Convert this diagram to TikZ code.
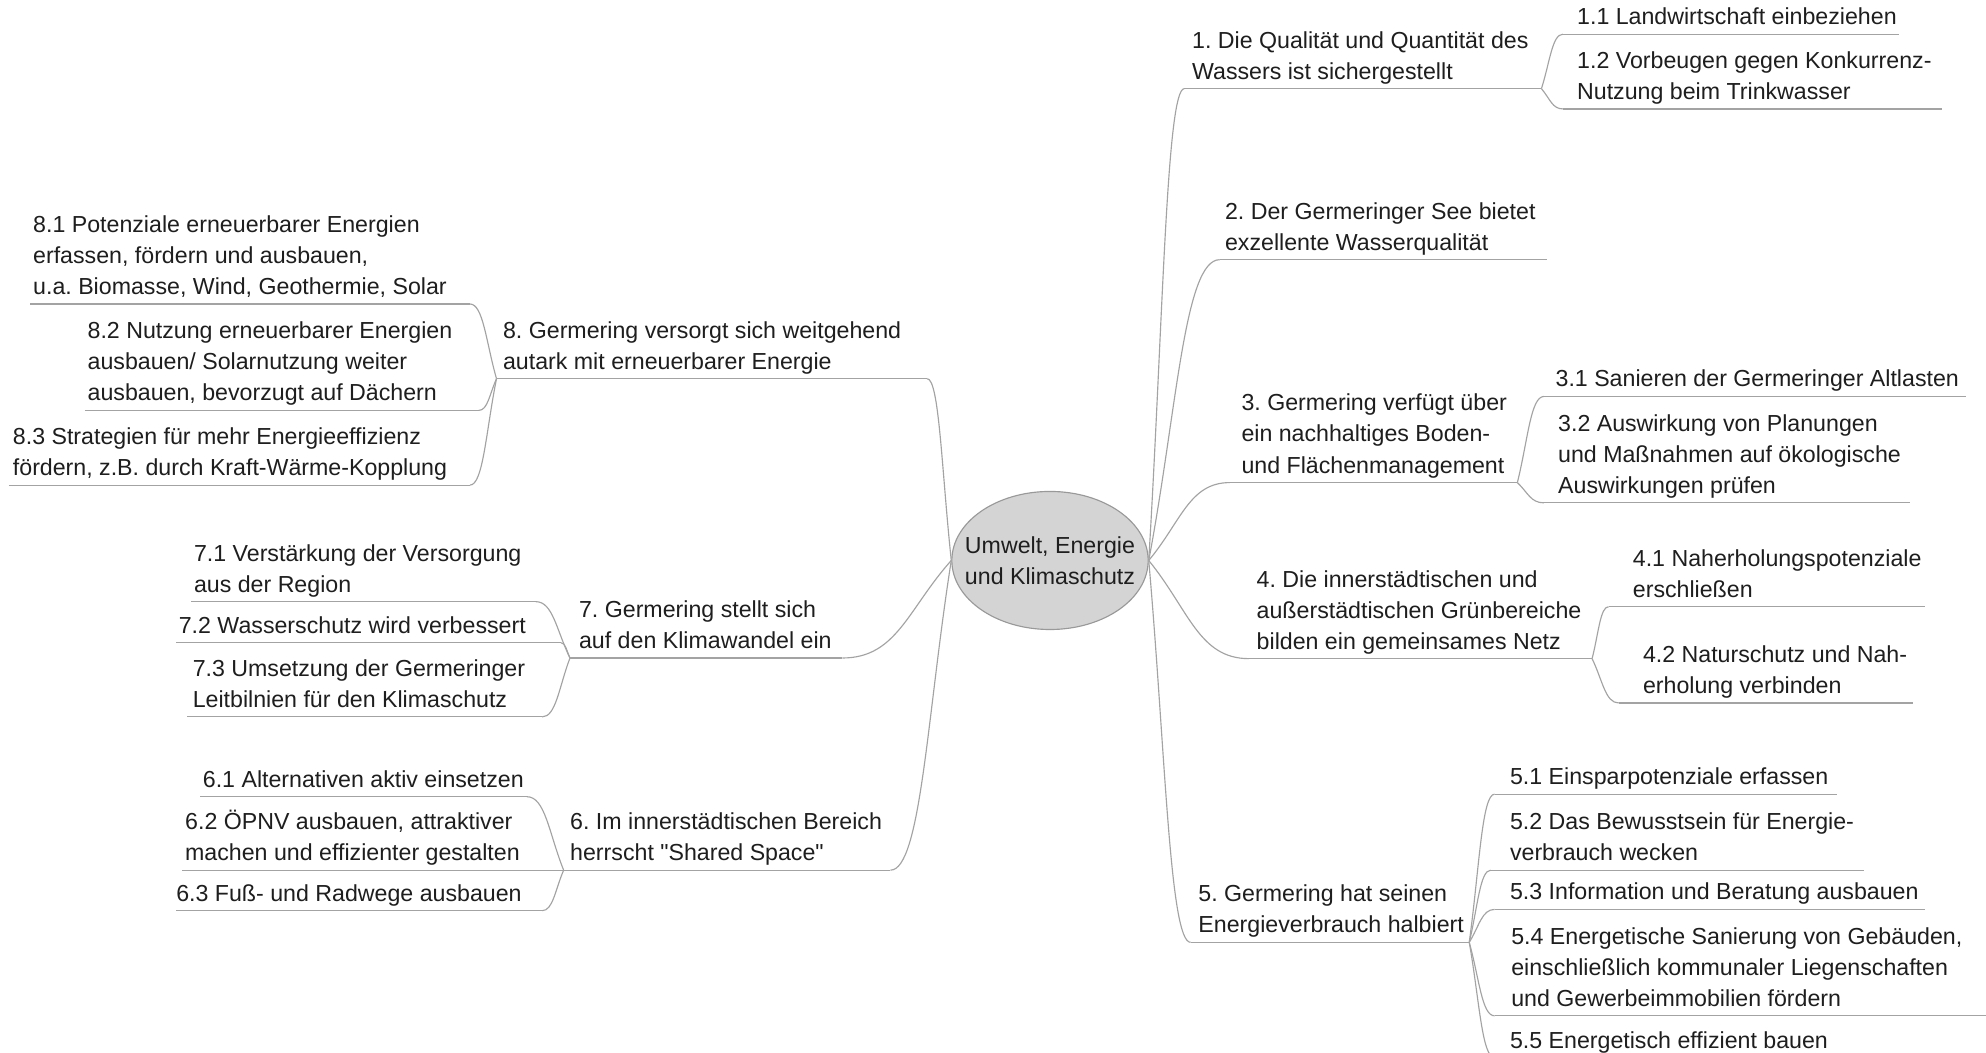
\documentclass[tikz,border=0pt]{standalone}
\usepackage{fontspec}
\setmainfont[Ligatures=TeXOff]{Liberation Sans}
\usetikzlibrary{calc,shapes.geometric}
\frenchspacing
\definecolor{txtc}{HTML}{1E1E1E}
\definecolor{linec}{HTML}{A3A3A3}
\definecolor{centerfill}{HTML}{D4D4D4}
\definecolor{centerdraw}{HTML}{999999}
\tikzset{
  txt/.style={anchor=south west, inner sep=0pt, align=left, text=txtc,
    font=\frenchspacing\fontsize{18.3}{24.5}\selectfont},
  ln/.style={draw=linec, line width=0.9pt},
  centre/.style={ellipse, fill=centerfill, draw=centerdraw, line width=0.9pt,
    minimum width=155pt, minimum height=109pt, inner sep=0pt},
  centretext/.style={inner sep=0pt, align=center, text=txtc,
    font=\fontsize{18.3}{24.5}\selectfont}
}
\newcommand\topic[6]{%
  \node[txt] (#1) at (#2,#3) {#6\strut};
  \coordinate (#1L) at (#4,#3);
  \coordinate (#1R) at (#5,#3);
  \draw[ln] (#1L) -- (#1R);
}
\newcommand\link[2]{%
  \draw[ln] let \p1=(#1), \p2=(#2) in (\p1) .. controls ({\x1+0.4*(\x2-\x1)},{\y1+0.5*(\y2-\y1)}) and ({0.5*(\x1+\x2)},\y2) .. (\p2);
}
\begin{document}
\begin{tikzpicture}[x=1pt,y=-1pt]
\fill[white] (0,0) rectangle (1568,831);
\useasboundingbox (0,0) rectangle (1568,831);

\node[centre] (c) at (829,442.5) {};
\node[centretext] (ct) at (c.center) {Umwelt, Energie\\und Klimaschutz};

% right side
\topic{b1}{941}{70}{935}{1217}{1. Die Qualität und Quantität des\\Wassers ist sichergestellt}
\topic{b11}{1245}{27}{1234}{1499}{1.1 Landwirtschaft einbeziehen}
\topic{b12}{1245}{86}{1234}{1533}{1.2 Vorbeugen gegen Konkurrenz-\\Nutzung beim Trinkwasser}
\topic{b2}{967}{205}{963}{1221}{2. Der Germeringer See bietet\\exzellente Wasserqualität}
\topic{b3}{980}{381}{971}{1198}{3. Germering verfügt über\\ein nachhaltiges Boden-\\und Flächenmanagement}
\topic{b31}{1228}{313}{1219}{1552}{3.1 Sanieren der Germeringer Altlasten}
\topic{b32}{1230}{397}{1219}{1508}{3.2 Auswirkung von Planungen\\und Maßnahmen auf ökologische\\Auswirkungen prüfen}
\topic{b4}{992}{520}{986}{1257}{4. Die innerstädtischen und\\außerstädtischen Grünbereiche\\bilden ein gemeinsames Netz}
\topic{b41}{1289}{479}{1270}{1520}{4.1 Naherholungspotenziale\\erschließen}
\topic{b42}{1297}{555}{1278}{1510}{4.2 Naturschutz und Nah-\\erholung verbinden}
\topic{b5}{946}{744}{940}{1160}{5. Germering hat seinen\\Energieverbrauch halbiert}
\topic{b51}{1192}{627}{1180}{1450}{5.1 Einsparpotenziale erfassen}
\topic{b52}{1192}{687}{1177}{1472}{5.2 Das Bewusstsein für Energie-\\verbrauch wecken}
\topic{b53}{1192}{718}{1180}{1520}{5.3 Information und Beratung ausbauen}
\topic{b54}{1193}{802}{1180}{1568}{5.4 Energetische Sanierung von Gebäuden,\\einschließlich kommunaler Liegenschaften\\und Gewerbeimmobilien fördern}
\topic{b55}{1192}{835}{1180}{1450}{5.5 Energetisch effizient bauen}

% left side
\topic{b8}{397}{299}{392}{732}{8. Germering versorgt sich weitgehend\\autark mit erneuerbarer Energie}
\topic{b81}{26}{240}{24}{371}{8.1 Potenziale erneuerbarer Energien\\erfassen, fördern und ausbauen,\\u.a. Biomasse, Wind, Geothermie, Solar}
\topic{b82}{69}{324}{67}{378}{8.2 Nutzung erneuerbarer Energien\\ausbauen/ Solarnutzung weiter\\ausbauen, bevorzugt auf Dächern}
\topic{b83}{10}{383}{7}{371}{8.3 Strategien für mehr Energieeffizienz\\fördern, z.B. durch Kraft-Wärme-Kopplung}
\topic{b7}{457}{519.5}{450}{665}{7. Germering stellt sich\\auf den Klimawandel ein}
\topic{b71}{153}{475}{151}{423}{7.1 Verstärkung der Versorgung\\aus der Region}
\topic{b72}{141}{507.5}{139}{443}{7.2 Wasserschutz wird verbessert}
\topic{b73}{152}{566}{148}{428}{7.3 Umsetzung der Germeringer\\Leitbilnien für den Klimaschutz}
\topic{b6}{450}{687}{445}{703}{6. Im innerstädtischen Bereich\\herrscht "Shared Space"}
\topic{b61}{160}{629}{158}{416}{6.1 Alternativen aktiv einsetzen}
\topic{b62}{146}{687}{144}{445}{6.2 ÖPNV ausbauen, attraktiver\\machen und effizienter gestalten}
\topic{b63}{139}{719}{139}{428}{6.3 Fuß- und Radwege ausbauen}

% connectors
\link{c.east}{b1L}
\link{c.east}{b2L}
\link{c.east}{b3L}
\link{c.east}{b4L}
\link{c.east}{b5L}
\link{c.west}{b8R}
\link{c.west}{b7R}
\link{c.west}{b6R}
\link{b1R}{b11L}
\link{b1R}{b12L}
\link{b3R}{b31L}
\link{b3R}{b32L}
\link{b4R}{b41L}
\link{b4R}{b42L}
\link{b5R}{b51L}
\link{b5R}{b52L}
\link{b5R}{b53L}
\link{b5R}{b54L}
\link{b5R}{b55L}
\link{b8L}{b81R}
\link{b8L}{b82R}
\link{b8L}{b83R}
\link{b7L}{b71R}
\link{b7L}{b72R}
\link{b7L}{b73R}
\link{b6L}{b61R}
\link{b6L}{b62R}
\link{b6L}{b63R}
\end{tikzpicture}
\end{document}
